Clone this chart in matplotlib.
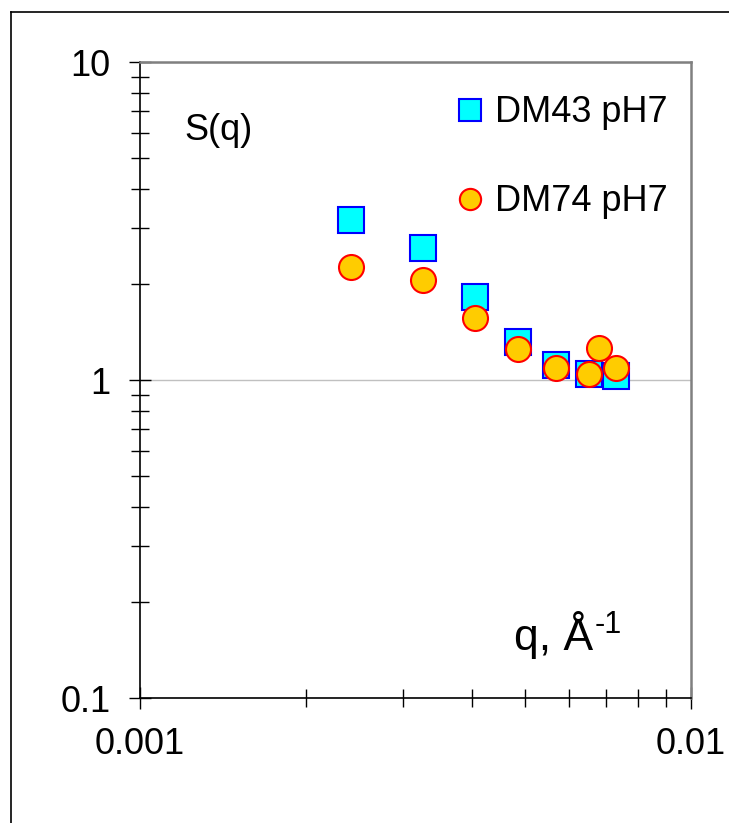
import matplotlib
matplotlib.use("Agg")
import matplotlib.pyplot as plt
import matplotlib.ticker as ticker
from matplotlib.lines import Line2D

# --- Data ---

q_dm43 = [0.00242, 0.00326, 0.00406, 0.00486, 0.00569, 0.00653, 0.00730]
s_dm43 = [3.18, 2.60, 1.82, 1.32, 1.115, 1.044, 1.03]

q_dm74 = [0.00242, 0.00326, 0.00406, 0.00486, 0.00569, 0.00653, 0.00681, 0.00730]
s_dm74 = [2.26, 2.06, 1.57, 1.25, 1.088, 1.042, 1.264, 1.088]

x_ticks = [0.001, 0.01]
x_labels = ["0.001", "0.01"]
y_ticks = [0.1, 1, 10]
y_labels = ["0.1", "1", "10"]

# --- Style ---

plt.rcParams["font.family"] = ["Liberation Sans", "DejaVu Sans"]

fig = plt.figure(figsize=(7.29, 8.23), dpi=100)
ax = fig.add_axes([140 / 729, 1 - 698 / 823, 551 / 729, 636 / 823])

ax.plot(q_dm43, s_dm43, ls="none", marker="s", ms=18.5, mfc="#00ffff",
        mec="#0000ff", mew=1.5, label="DM43 pH7", zorder=3)
ax.plot(q_dm74, s_dm74, ls="none", marker="o", ms=18, mfc="#ffcc00",
        mec="#ff0000", mew=1.5, label="DM74 pH7", zorder=4)

ax.set_xscale("log")
ax.set_yscale("log")
ax.set_xlim(0.001, 0.01)
ax.set_ylim(0.1, 10)

ax.xaxis.set_major_locator(ticker.FixedLocator(x_ticks))
ax.xaxis.set_major_formatter(ticker.FixedFormatter(x_labels))
ax.yaxis.set_major_locator(ticker.FixedLocator(y_ticks))
ax.yaxis.set_major_formatter(ticker.FixedFormatter(y_labels))
ax.xaxis.set_minor_locator(ticker.LogLocator(base=10, subs=range(2, 10)))
ax.yaxis.set_minor_locator(ticker.LogLocator(base=10, subs=range(2, 10)))
ax.xaxis.set_minor_formatter(ticker.NullFormatter())
ax.yaxis.set_minor_formatter(ticker.NullFormatter())

ax.tick_params(which="major", direction="inout", length=16, width=1,
               labelsize=26, pad=13, color="black")
ax.tick_params(which="minor", direction="inout", length=13, width=1,
               color="black")
ax.tick_params(top=False, right=False, which="both")

ax.yaxis.grid(True, which="major", color="#c0c0c0", lw=1)
ax.set_axisbelow(True)

for side in ["left", "bottom"]:
    ax.spines[side].set_color("black")
    ax.spines[side].set_linewidth(1.2)
for side in ["top", "right"]:
    ax.spines[side].set_color("#808080")
    ax.spines[side].set_linewidth(1.8)

ax.text(0.08, 0.893, "S(q)", transform=ax.transAxes, fontsize=26,
        ha="left", va="center")
qlab = ax.text(0.679, 0.0755, "q, Å", transform=ax.transAxes, fontsize=32,
               ha="left", va="baseline")
ax.annotate("-1", xy=(1, 1), xycoords=qlab, xytext=(1, 1),
            textcoords="offset points", fontsize=22, ha="left", va="top")

leg = ax.legend(loc="upper left", bbox_to_anchor=(0.54, 0.976), frameon=False,
                fontsize=26, markerscale=0.85, handlelength=0.8,
                handletextpad=0.3, labelspacing=1.5, borderpad=0)

# outer frame of the original figure
fig.add_artist(Line2D([11 / 729, 11 / 729], [0, 1 - 12 / 823],
                      transform=fig.transFigure, color="black", lw=1.2))
fig.add_artist(Line2D([11 / 729, 1], [1 - 12 / 823, 1 - 12 / 823],
                      transform=fig.transFigure, color="black", lw=1.2))

fig.savefig("out.png", dpi=100, facecolor="white")
